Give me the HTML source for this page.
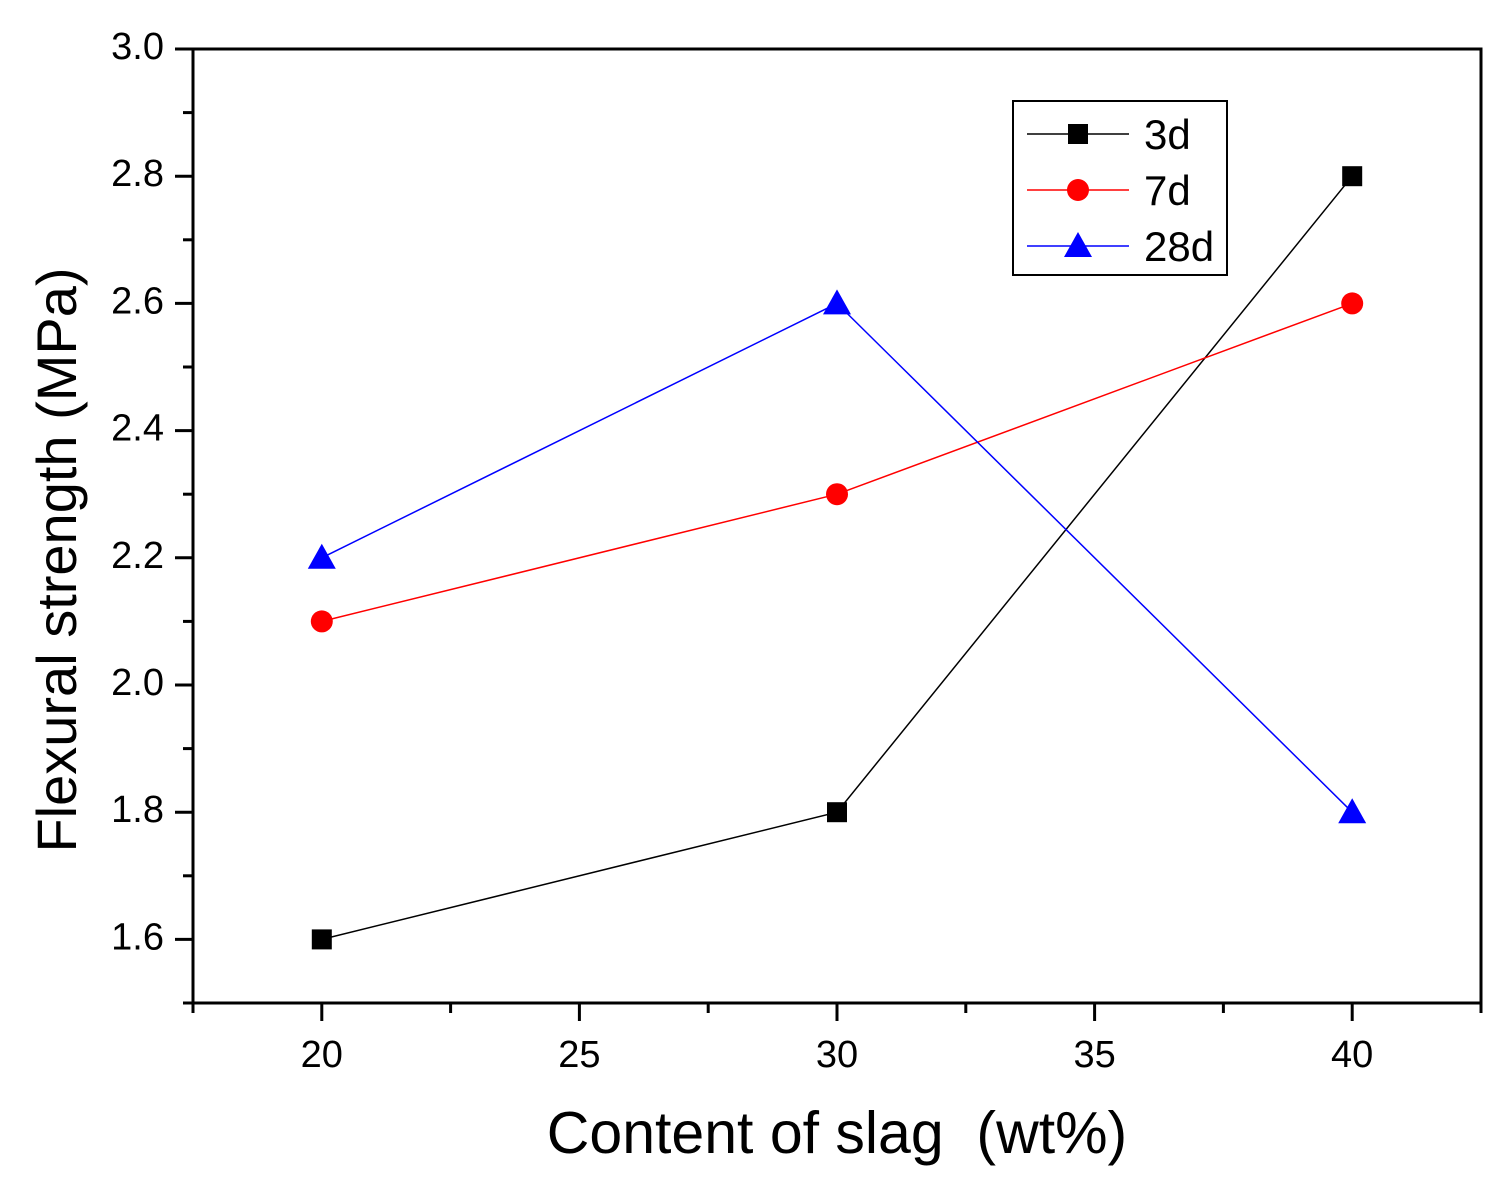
<!DOCTYPE html>
<html><head><meta charset="utf-8"><style>
html,body{margin:0;padding:0;background:#fff;}
svg{display:block;font-family:"Liberation Sans",Arial,sans-serif;}
</style></head><body>
<svg id="chart" width="1504" height="1183" viewBox="0 0 1504 1183" xmlns="http://www.w3.org/2000/svg"></svg>
<script>
const categories = [20, 30, 40];
const series3d = [1.6, 1.8, 2.8];
const series7d = [2.1, 2.3, 2.6];
const series28d = [2.2, 2.6, 1.8];
const xTickLabels = [20, 25, 30, 35, 40];
const yTickLabels = [1.6, 1.8, 2.0, 2.2, 2.4, 2.6, 2.8, 3.0];

const L=193, R=1481, T=49, B=1003;
const xMin=17.5, xMax=42.5, yMin=1.5, yMax=3.0;
const xs = v => L + (v-xMin)/(xMax-xMin)*(R-L);
const ys = v => B - (v-yMin)/(yMax-yMin)*(B-T);
const svg = document.getElementById('chart');
const NS='http://www.w3.org/2000/svg';
function mk(tag, attrs, parent){
  const e=document.createElementNS(NS,tag);
  for(const k in attrs) e.setAttribute(k,attrs[k]);
  (parent||svg).appendChild(e); return e;
}
const frame = mk('rect',{x:L,y:T,width:R-L,height:B-T,fill:'none',stroke:'#000','stroke-width':3});


for(let v=17.5; v<=42.5+1e-9; v+=2.5){
  const major = Math.abs(v%5)<1e-9;
  const t=mk('line',{x1:xs(v),x2:xs(v),y1:B,y2:B+(major?18:10),stroke:'#000','stroke-width':3});
  
  
}
xTickLabels.forEach(v=>{
  const t=mk('text',{x:xs(v),y:1067,'font-size':38,'text-anchor':'middle',fill:'#000'});
  t.textContent=v;
  
  
});
for(let i=0;i<=15;i++){
  const v=1.5+i*0.1;
  const major = i%2===1;
  const t=mk('line',{x1:L,x2:L-(major?18:10),y1:ys(v),y2:ys(v),stroke:'#000','stroke-width':3});
  
  
}
yTickLabels.forEach(v=>{
  const t=mk('text',{x:164,y:ys(v)+10,'font-size':38,'text-anchor':'end',fill:'#000'});
  t.textContent=v.toFixed(1);
  
  
});
const xt=mk('text',{x:837,y:1153,'font-size':59,'text-anchor':'middle',fill:'#000'});
xt.textContent='Content of slag  (wt%)';


xt.style.whiteSpace='pre';
const yt=mk('text',{x:0,y:0,'font-size':56,'text-anchor':'middle',fill:'#000',transform:'translate(76,560) rotate(-90)'});
yt.textContent='Flexural strength (MPa)';



function marker(type,cx,cy,color,g){
  let m;
  if(type==='sq') m=mk('rect',{x:cx-10,y:cy-10,width:20,height:20,fill:color},g);
  else if(type==='ci') m=mk('circle',{cx:cx,cy:cy,r:11,fill:color},g);
  else m=mk('polygon',{points:`${cx},${cy-14} ${cx-14},${cy+11} ${cx+14},${cy+11}`,fill:color},g);
  return m;
}
function drawSeries(vals,color,type,name){
  const g=mk('g',{});
  
  
  const l=mk('polyline',{points:vals.map((v,i)=>xs(categories[i])+','+ys(v)).join(' '),fill:'none',stroke:color,'stroke-width':1.5},g);
  
  
  vals.forEach((v,i)=>{
    const m=marker(type,xs(categories[i]),ys(v),color,g);
    
    
  });
}
drawSeries(series3d,'#000','sq','series-3d');
drawSeries(series7d,'#ff0000','ci','series-7d');
drawSeries(series28d,'#0000ff','tr','series-28d');

const lg=mk('g',{});


const lb=mk('rect',{x:1013,y:101,width:214,height:174,fill:'#fff',stroke:'#000','stroke-width':2},lg);


[['3d','#000','sq',134],['7d','#ff0000','ci',190],['28d','#0000ff','tr',246]].forEach(([lab,c,t,y])=>{
  const e=mk('g',{},lg);
  
  
  mk('line',{x1:1027,x2:1129,y1:y,y2:y,stroke:c,'stroke-width':1.5},e);
  marker(t,1078,y,c,e);
  const tx=mk('text',{x:1144,y:y+15,'font-size':42,fill:'#000'},e);
  tx.textContent=lab;
});
</script>
</body></html>
